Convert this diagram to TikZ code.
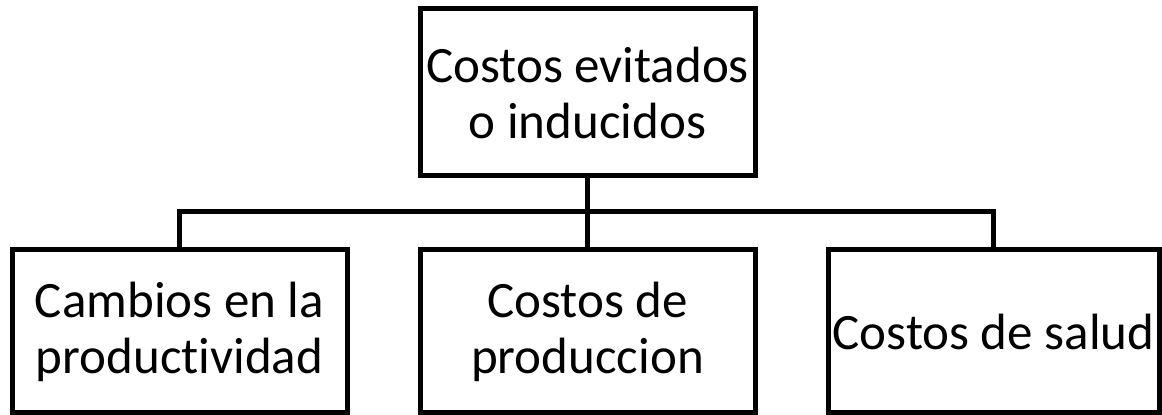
\documentclass[tikz,border=0pt]{standalone}
\usepackage{fontspec}
\setmainfont{Carlito}[RawFeature=-liga]
\usepackage{tikz}
\usetikzlibrary{positioning}

\begin{document}
\begin{tikzpicture}[
  x=1pt,
  y=1pt,
  box/.style={draw=black,line width=5pt,minimum width=335pt,minimum height=163pt,align=center,inner sep=0pt,font=\fontsize{51}{56}\selectfont},
  link/.style={draw=black,line width=5pt}
]
  \useasboundingbox (0,0) rectangle (1162,415);

  % Top box
  \node[box,minimum height=167pt] (costos) at (587.5,322.5) {Costos evitados\\o inducidos};

  % Bottom row
  \node[box] (cambios) at (179.5,83.5) {Cambios en la\\productividad};
  \node[box] (produccion) at (587.5,83.5) {Costos de\\produccion};
  \node[box,minimum width=331pt] (salud) at (993.5,83.5) {Costos de salud};

  % Connectors
  \coordinate (bus) at (587.5,203);
  \draw[link] (costos.south) -- (produccion.north);
  \draw[link] (cambios.north) |- (bus) -| (salud.north);
\end{tikzpicture}
\end{document}
